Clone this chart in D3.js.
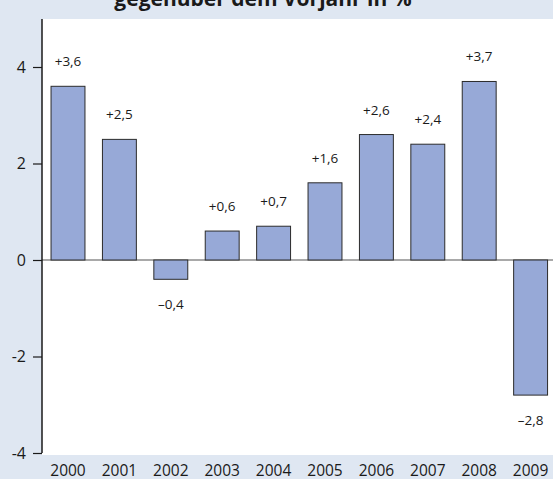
<!DOCTYPE html>
<html>
<head>
<meta charset="utf-8">
<script src="https://cdn.jsdelivr.net/npm/d3@7"></script>
<style>
  body { margin: 0; background: #dfe7f2; }
  svg { display: block; font-family: "Open Sans", "Noto Sans", sans-serif; }
</style>
</head>
<body>
<script>
const years = ['2000', '2001', '2002', '2003', '2004', '2005', '2006', '2007', '2008', '2009'];
const values = [3.6, 2.5, -0.4, 0.6, 0.7, 1.6, 2.6, 2.4, 3.7, -2.8];
const yTicks = [-4, -2, 0, 2, 4];
const title = 'gegenüber dem Vorjahr in %';

const width = 553, height = 479;
const plot = { left: 42, top: 19, right: 553, bottom: 455 };

const svg = d3.select('body')
  .append('svg')
  .attr('width', width)
  .attr('height', height);

svg.append('rect')
  .attr('width', width)
  .attr('height', height)
  .attr('fill', '#dfe7f2');

// white plot area
svg.append('rect')
  .attr('x', plot.left)
  .attr('y', plot.top)
  .attr('width', plot.right - plot.left)
  .attr('height', plot.bottom - plot.top)
  .attr('fill', '#fff');

// title, cut off at the top like in the source
svg.append('text')
  .attr('x', 263)
  .attr('y', 6)
  .attr('text-anchor', 'middle')
  .attr('font-size', 21)
  .attr('font-weight', 'bold')
  .attr('fill', '#1a1a1a')
  .text(title);

const yScale = d3.scaleLinear()
  .domain([-4, 5])
  .range([453, 18.75]);

const xScale = d3.scaleBand()
  .domain(years)
  .range([42.3, 556.3])
  .paddingInner(0.34)
  .paddingOuter(0.17);

// zero line
svg.append('line')
  .attr('x1', plot.left)
  .attr('x2', plot.right)
  .attr('y1', yScale(0))
  .attr('y2', yScale(0))
  .attr('stroke', '#8c8c8c')
  .attr('stroke-width', 1.5);

svg.selectAll('rect.bar')
  .data(values)
  .enter()
  .append('rect')
  .attr('class', 'bar')
  .attr('x', (d, i) => xScale(years[i]))
  .attr('width', xScale.bandwidth())
  .attr('y', d => yScale(Math.max(0, d)))
  .attr('height', d => Math.abs(yScale(d) - yScale(0)))
  .attr('fill', '#97a9d7')
  .attr('stroke', '#2b2b2b')
  .attr('stroke-width', 1);

const fmt = d => (d >= 0 ? '+' : '\u2013') + d3.format('.1f')(Math.abs(d)).replace('.', ',');

svg.selectAll('text.val')
  .data(values)
  .enter()
  .append('text')
  .attr('class', 'val')
  .attr('x', (d, i) => xScale(years[i]) + xScale.bandwidth() / 2)
  .attr('y', d => d >= 0 ? yScale(d) - 20 : yScale(d) + 30)
  .attr('text-anchor', 'middle')
  .attr('font-size', 13.5)
  .attr('fill', '#1a1a1a')
  .text(fmt);

// y axis
const yAxis = d3.axisLeft(yScale)
  .tickValues(yTicks)
  .tickSize(9)
  .tickPadding(7)
  .tickFormat(d => d3.format('d')(d).replace('\u2212', '-'));

const gy = svg.append('g')
  .attr('transform', `translate(${plot.left}, 0)`)
  .call(yAxis);
gy.select('.domain')
  .attr('d', `M0,${plot.top}V${yScale(-4)}`)
  .attr('stroke', '#1a1a1a')
  .attr('stroke-width', 1.5);
gy.selectAll('.tick line').attr('stroke', '#1a1a1a').attr('stroke-width', 1.2);
gy.selectAll('.tick text')
  .attr('font-size', 16)
  .attr('fill', '#1a1a1a')
  .attr('font-family', '"Open Sans", "Noto Sans", sans-serif');

// year labels
svg.selectAll('text.year')
  .data(years)
  .enter()
  .append('text')
  .attr('class', 'year')
  .attr('x', d => xScale(d) + xScale.bandwidth() / 2)
  .attr('y', 476)
  .attr('text-anchor', 'middle')
  .attr('font-size', 15.5)
  .attr('fill', '#1a1a1a')
  .text(d => d);
</script>
</body>
</html>
